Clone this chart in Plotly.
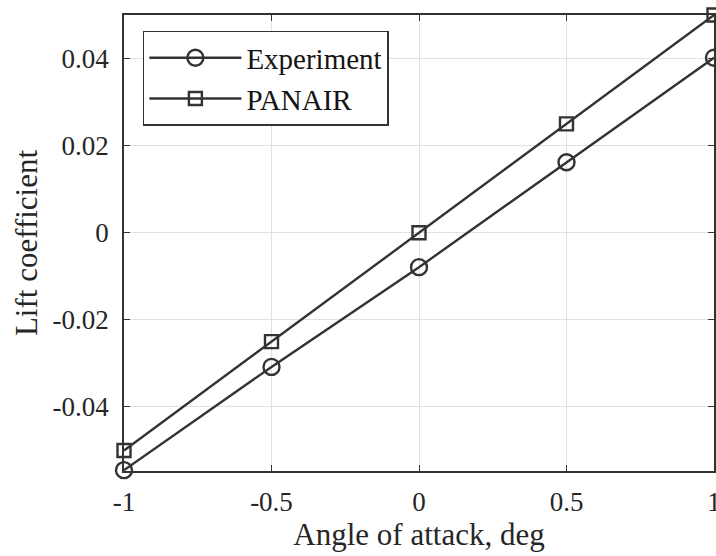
import plotly.graph_objects as go

alpha = [-1, -0.5, 0, 0.5, 1]
cl_experiment = [-0.0545, -0.0308, -0.0079, 0.0162, 0.0402]
cl_panair = [-0.0500, -0.0250, 0.0000, 0.0250, 0.0500]
x_ticks = [-1, -0.5, 0, 0.5, 1]
x_tick_labels = ["-1", "-0.5", "0", "0.5", "1"]
y_ticks = [-0.04, -0.02, 0, 0.02, 0.04]
y_tick_labels = ["-0.04", "-0.02", "0", "0.02", "0.04"]

ink = "rgb(51,51,51)"
font = "Liberation Serif, Times New Roman, serif"

fig = go.Figure()
fig.add_trace(go.Scatter(
    x=alpha, y=cl_experiment, mode="lines+markers", name="Experiment",
    line=dict(color=ink, width=2.4),
    marker=dict(symbol="circle-open", size=16, color=ink, line=dict(width=2.4, color=ink)),
    cliponaxis=False))
fig.add_trace(go.Scatter(
    x=alpha, y=cl_panair, mode="lines+markers", name="PANAIR",
    line=dict(color=ink, width=2.4),
    marker=dict(symbol="square-open", size=13, color=ink, line=dict(width=2.4, color=ink)),
    cliponaxis=False))

axis_common = dict(
    showline=True, linecolor=ink, linewidth=1.5, mirror="ticks",
    ticks="inside", ticklen=6, tickcolor=ink, tickwidth=1,
    showgrid=True, gridcolor="rgb(225,225,225)", gridwidth=1,
    zeroline=False, tickfont=dict(family=font, size=27, color="rgb(38,38,38)"),
    ticklabeloverflow="allow", automargin=False,
)

fig.update_layout(
    width=716, height=556,
    margin=dict(l=124, r=2, t=15, b=85),
    paper_bgcolor="white", plot_bgcolor="white",
    font=dict(family=font, color="rgb(38,38,38)"),
    xaxis=dict(range=[-1, 1], tickvals=x_ticks, ticktext=x_tick_labels,
               title=dict(text="Angle of attack, deg", font=dict(family=font, size=31), standoff=6),
               ticklabelstandoff=6, **axis_common),
    yaxis=dict(range=[-0.0547, 0.05], tickvals=y_ticks, ticktext=y_tick_labels,
               title=dict(text="Lift coefficient", font=dict(family=font, size=31), standoff=6),
               ticklabelstandoff=8, **axis_common),
    showlegend=True,
    legend=dict(x=0.032, y=0.965, xanchor="left", yanchor="top",
                bgcolor="white", bordercolor=ink, borderwidth=1.5,
                font=dict(family=font, size=29, color="rgb(20,20,20)"),
                itemwidth=92, tracegroupgap=0),
)

fig.write_html("out.html")
